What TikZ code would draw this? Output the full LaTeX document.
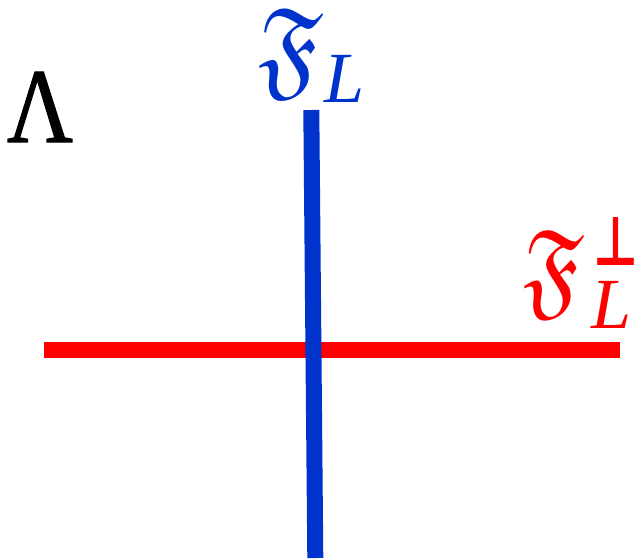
\documentclass[tikz,border=0pt]{standalone}
\usepackage{amssymb}
\usepackage{fontspec}
\setmainfont{Liberation Serif}
\newfontfamily\lamfont[FakeBold=1.2]{Liberation Serif}
\newfontfamily\symfont{DejaVu Sans}
\begin{document}
\begin{tikzpicture}[x=1pt,y=-1pt,
  lbl/.style={inner sep=0pt,outer sep=0pt},
  big/.style={lbl,font=\fontsize{100}{110}\selectfont},
  sub/.style={lbl,font=\fontsize{72}{80}\selectfont\itshape}]
\definecolor{fblue}{RGB}{0,51,204}
\definecolor{fred}{RGB}{255,0,0}
\useasboundingbox (0,0) rectangle (642,558);
\coordinate (rl) at (44,350);
\coordinate (rr) at (620,350);
\coordinate (bt) at (311.3,110);
\coordinate (bb) at (315.3,558);
\draw[fred,line width=16pt] (rl) -- (rr);
\draw[fblue,line width=16pt] (bt) -- (bb);
\node[big,anchor=base west] (lam) at (7,142) {\resizebox{66pt}{70pt}{\lamfont Λ}};
\node[lbl,text=fblue,anchor=north west] (ff) at (258,8) {\resizebox*{64pt}{90pt}{$\mathfrak{F}$}};
\node[sub,text=fblue,anchor=base west] (fl) at (324,102) {L};
\node[lbl,text=fred,anchor=north west] (rf) at (523,230) {\resizebox*{60pt}{88pt}{$\mathfrak{F}$}};
\node[lbl,text=fred,anchor=north west] (perp) at (593,217) {\resizebox*{45pt}{48pt}{\symfont\bfseries ⊥}};
\node[sub,text=fred,anchor=base west] (rl2) at (591,328) {L};
\end{tikzpicture}
\end{document}
